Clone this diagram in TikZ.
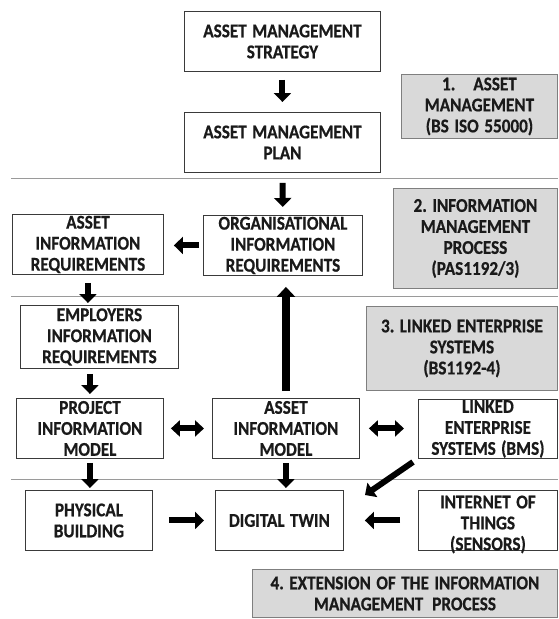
\documentclass[tikz,border=0pt]{standalone}
\usepackage{fontspec}
\setmainfont{Carlito}[FakeStretch=0.88, FakeBold=0.6]
\usetikzlibrary{arrows.meta,calc}
\definecolor{txt}{HTML}{1A1A1A}
\definecolor{boxline}{HTML}{3A3A3A}
\definecolor{panelfill}{HTML}{D9D9D9}
\definecolor{panelline}{HTML}{7F7F7F}
\definecolor{sepline}{HTML}{9A9A9A}
\tikzset{
  lbl/.style={font=\fontsize{19.5}{21}\selectfont\bfseries, text=txt, align=center, inner sep=0pt, anchor=north west,
    execute at begin node={\frenchspacing\spaceskip=5pt plus 1pt\relax\xspaceskip=5pt plus 1pt\relax}},
  frame/.style={draw=boxline, line width=0.9pt, fill=white, inner sep=0pt, anchor=north west},
  box/.style={lbl, frame},
  panel/.style={lbl, draw=panelline, line width=0.9pt, fill=panelfill},
  sep/.style={draw=sepline, line width=1pt},
  blk/.style={line width=6pt, -{Triangle[width=17pt,length=9pt]}, black},
  dbl/.style={line width=6pt, {Triangle[width=16pt,length=9pt]}-{Triangle[width=16pt,length=9pt]}, black},
}
\begin{document}
\begin{tikzpicture}[x=1pt,y=-1pt]
\useasboundingbox (0,0) rectangle (558,619);

% band separators
\draw[sep] (11,178.5) -- (558,178.5);
\draw[sep] (11,296.5) -- (558,296.5);
\draw[sep] (11,479) -- (558,479);

% process boxes
\node[box, minimum width=196pt, minimum height=60pt, text width=196pt] (ams) at (184,11) {ASSET MANAGEMENT\\STRATEGY};
\node[box, minimum width=196pt, minimum height=60pt, text width=196pt] (amp) at (184,112) {ASSET MANAGEMENT\\PLAN};
\node[box, minimum width=151pt, minimum height=60pt, text width=151pt] (air) at (12,214) {ASSET\\INFORMATION\\REQUIREMENTS};
\node[box, minimum width=159pt, minimum height=60pt, text width=159pt] (oir) at (203,215) {ORGANISATIONAL\\INFORMATION\\REQUIREMENTS};
\node[box, minimum width=158pt, minimum height=63pt, text width=158pt] (eir) at (20,305) {EMPLOYERS\\INFORMATION\\REQUIREMENTS};
\node[box, minimum width=147pt, minimum height=60pt, text width=147pt] (pim) at (16,398) {PROJECT\\INFORMATION\\MODEL};
\node[box, minimum width=147pt, minimum height=60pt, text width=147pt] (aim) at (212,398) {ASSET\\INFORMATION\\MODEL};
\node[box, minimum width=139pt, minimum height=59pt, text width=139pt] (les) at (418,399) {LINKED\\ENTERPRISE\\SYSTEMS (BMS)};
\node[box, minimum width=127pt, minimum height=60pt, text width=127pt] (pb) at (25,490) {PHYSICAL\\BUILDING};
\node[box, minimum width=128pt, minimum height=60pt, text width=128pt] (dt) at (215,490) {DIGITAL TWIN};
\node[frame, minimum width=139pt, minimum height=60pt] (iot) at (418,490) {};
\node[lbl, anchor=center, text width=139pt] (iottext) at ($(iot.center)+(0,4)$) {INTERNET OF\\THINGS\\(SENSORS)};

% standards panels
\node[panel, minimum width=156pt, minimum height=64pt, text width=156pt] (g1) at (401,74) {1.\hspace{18pt}ASSET\\MANAGEMENT\\(BS ISO 55000)};
\node[panel, minimum width=164pt, minimum height=100pt, text width=164pt] (g2) at (393,188) {2. INFORMATION\\MANAGEMENT\\PROCESS\\(PAS1192/3)};
\node[panel, minimum width=191pt, minimum height=84pt, text width=191pt] (g3) at (366,306) {3. LINKED ENTERPRISE\\SYSTEMS\\(BS1192-4)};
\node[panel, minimum width=305pt, minimum height=48pt, text width=305pt] (g4) at (252,569) {4. EXTENSION OF THE INFORMATION\\MANAGEMENT\hspace{9pt}PROCESS};

% flow arrows
\draw[blk, shorten <=8pt, shorten >=10pt] (ams) -- (amp);
\draw[blk, shorten <=10pt, shorten >=8pt] (amp) -- (oir);
\draw[blk, shorten <=4pt, shorten >=10pt] (oir.west) -- (oir.west -| air.east);
\draw[blk, shorten <=8pt, shorten >=2pt] (air.south) -- (air.south |- eir.north);
\draw[blk, shorten <=5pt, shorten >=4pt] (pim.north |- eir.south) -- (pim.north);
\draw[blk, line width=8pt, -{Triangle[width=18pt,length=10pt]}, shorten <=7pt, shorten >=11pt] (aim.north) -- (aim.north |- oir.south);
\draw[dbl, shorten <=7pt, shorten >=8pt] (pim.east) -- (pim.east -| aim.west);
\draw[dbl, shorten <=9pt, shorten >=14pt] (aim.east) -- (aim.east -| les.west);
\draw[blk, shorten <=4pt, shorten >=2pt] (pim.south) -- (pim.south |- pb.north);
\draw[blk, shorten <=4pt, shorten >=2pt] (aim.south) -- (aim.south |- dt.north);
\draw[blk, shorten <=16pt, shorten >=11pt] (pb.east) -- (pb.east -| dt.west);
\draw[blk, shorten <=18pt, shorten >=21pt] (iot.west) -- (iot.west -| dt.east);
\coordinate (lesfeed) at (413,462);
\coordinate (dtin) at (365,495);
\draw[blk] (lesfeed) -- (dtin);
\end{tikzpicture}
\end{document}
